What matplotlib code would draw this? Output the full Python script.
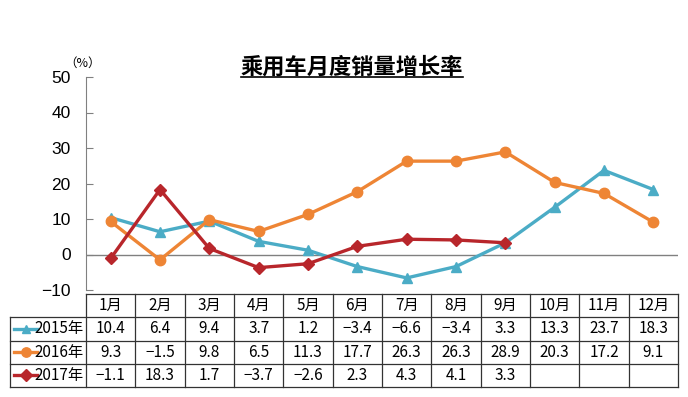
import matplotlib.pyplot as plt
from matplotlib.lines import Line2D

plt.rcParams['font.family'] = ['Noto Sans CJK SC', 'DejaVu Sans']

months = ['1月', '2月', '3月', '4月', '5月', '6月', '7月', '8月', '9月', '10月', '11月', '12月']
years = ['2015年', '2016年', '2017年']
v2015 = [10.4, 6.4, 9.4, 3.7, 1.2, -3.4, -6.6, -3.4, 3.3, 13.3, 23.7, 18.3]
v2016 = [9.3, -1.5, 9.8, 6.5, 11.3, 17.7, 26.3, 26.3, 28.9, 20.3, 17.2, 9.1]
v2017 = [-1.1, 18.3, 1.7, -3.7, -2.6, 2.3, 4.3, 4.1, 3.3]

series = [v2015, v2016, v2017]
colors = ['#4BACC6', '#EE8535', '#B8262B']
markers = ['^', 'o', 'D']
msizes = [7, 7.5, 6.5]

W, H = 688, 397
fig = plt.figure(figsize=(W / 100, H / 100), dpi=100)

# main plot area (pixel box: x 86..678, y 77..290)
ax = fig.add_axes([86 / W, 1 - 290 / H, (678 - 86) / W, (290 - 77) / H])
x = list(range(1, 13))
for vals, c, m, ms in zip(series, colors, markers, msizes):
    ax.plot(x[:len(vals)], vals, color=c, lw=2.4, marker=m, ms=ms,
            markeredgecolor=c, zorder=3)

ax.axhline(0, color='#808080', lw=1, zorder=1)
ax.set_xlim(0.5, 12.5)
ax.set_ylim(-10, 50)
ax.set_yticks(range(-10, 51, 10))
ax.set_yticklabels([str(v).replace('-', '\u2212') for v in range(-10, 51, 10)],
                   family='Liberation Sans')
ax.set_xticks([])
for s in ['top', 'right', 'bottom']:
    ax.spines[s].set_visible(False)
ax.spines['left'].set_color('#808080')
ax.tick_params(axis='y', direction='in', length=5, color='#808080',
               labelsize=12.5, pad=11)
fig.text(83 / W, 1 - 63 / H, '（%）', fontsize=9, ha='center', va='center')

title = fig.text(352 / W, 1 - 67 / H, '乘用车月度销量增长率', fontsize=16,
                 fontweight='bold', ha='center', va='center')
fig.canvas.draw()
bb = title.get_window_extent().transformed(fig.transFigure.inverted())
fig.add_artist(Line2D([bb.x0, bb.x1], [bb.y0 + 0.004, bb.y0 + 0.004],
                      transform=fig.transFigure, color='black', lw=1.2))

# data table (pixel box: x 10..678, y 294..387)
tx0, tx1, ty0, ty1 = 10, 678, 294, 387
tab = fig.add_axes([tx0 / W, 1 - ty1 / H, (tx1 - tx0) / W, (ty1 - ty0) / H])
label_w = (86 - tx0) / ((678 - 86) / 12)  # label column width in month units
tab.set_xlim(-label_w, 12)
tab.set_ylim(4, 0)
tab.axis('off')

lc = '#333333'
tab.plot([0, 12], [0, 0], color=lc, lw=0.9, clip_on=False)
for r in range(1, 5):
    tab.plot([-label_w, 12], [r, r], color=lc, lw=0.9, clip_on=False)
tab.plot([-label_w, -label_w], [1, 4], color=lc, lw=0.9, clip_on=False)
for cidx in range(13):
    tab.plot([cidx, cidx], [0, 4], color=lc, lw=0.9, clip_on=False)

for i, mth in enumerate(months):
    tab.text(i + 0.5, 0.5, mth, ha='center', va='center', fontsize=11)
for r, (vals, yr, c, m, ms) in enumerate(zip(series, years, colors, markers, msizes)):
    yy = r + 1.5
    tab.plot([-label_w + 0.08, -label_w + 0.55], [yy, yy], color=c, lw=2.4,
             clip_on=False)
    tab.plot([-label_w + 0.315], [yy], color=c, marker=m, ms=ms * 0.9,
             clip_on=False)
    tab.text(-0.04, yy, yr, ha='right', va='center', fontsize=11)
    for i, v in enumerate(vals):
        tab.text(i + 0.5, yy, f'{v:.1f}'.replace('-', '\u2212'),
                 ha='center', va='center', fontsize=11)

fig.savefig('out.png', dpi=100)
